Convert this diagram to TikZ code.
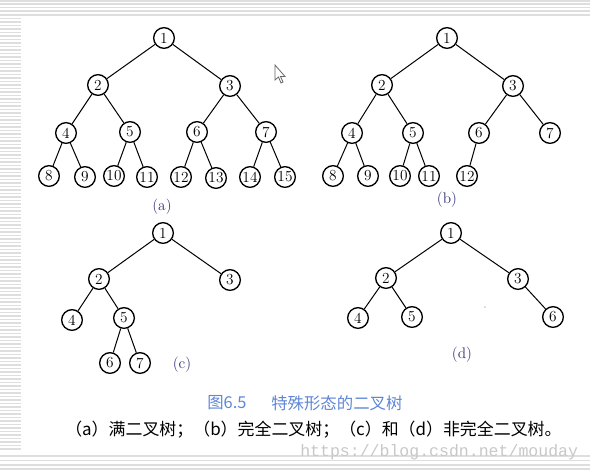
\documentclass[tikz,border=0pt]{standalone}
\usepackage{fontspec}
\newfontfamily\cjk{Noto Sans CJK SC}
\newfontfamily\wmfont{Liberation Mono}
\definecolor{labblue}{RGB}{50,50,120}
\definecolor{capblue}{RGB}{95,135,215}
\definecolor{stripegray}{RGB}{222,222,222}
\definecolor{wmgray}{RGB}{200,200,200}
\begin{document}
\begin{tikzpicture}[x=0.75pt,y=-0.75pt,
  tn/.style={circle,draw,line width=1pt,minimum size=15.5pt,inner sep=0pt,fill=white,font=\fontsize{11.5}{11.5}\selectfont},
  edge/.style={line width=0.75pt},
  sublabel/.style={text=labblue,font=\fontsize{11.5}{13}\selectfont},
  stripe/.style={draw=stripegray,line width=0.8pt}]
\path[use as bounding box,fill=white] (0,0) rectangle (590,471);
% background stripes
\foreach \y in {1,4,7.5,11,15} {\draw[stripe] (0,\y) -- (590,\y);}
\foreach \y in {456,460.5,465,469} {\draw[stripe] (0,\y) -- (590,\y);}
\foreach \i in {0,...,123} {\draw[stripe] (0,{18.5+3.5*\i}) -- (21,{18.5+3.5*\i});}
% cursor
\draw[fill=white,draw=black!60,line width=0.6pt] (275,65) -- (275,80) -- (278.5,77) -- (281,83) -- (283,82) -- (280.5,76.5) -- (285,76.5) -- cycle;
% tree (a)
\node[tn] (a1) at (164,38) {1};
\node[tn] (a2) at (98,85) {2};
\node[tn] (a3) at (230,86) {3};
\node[tn] (a4) at (66,133) {4};
\node[tn] (a5) at (130,132) {5};
\node[tn] (a6) at (197,132) {6};
\node[tn] (a7) at (266,132) {7};
\node[tn] (a8) at (49,176) {8};
\node[tn] (a9) at (85,177) {9};
\node[tn] (a10) at (114,176) {10};
\node[tn] (a11) at (147,177) {11};
\node[tn] (a12) at (181,177) {12};
\node[tn] (a13) at (216,178) {13};
\node[tn] (a14) at (250,177) {14};
\node[tn] (a15) at (285,177) {15};
\foreach \p/\c in {a1/a2,a1/a3,a2/a4,a2/a5,a3/a6,a3/a7,a4/a8,a4/a9,a5/a10,a5/a11,a6/a12,a6/a13,a7/a14,a7/a15}
  {\draw[edge] (\p) -- (\c);}
\node[sublabel] (la) at (162,207) {(a)};
% tree (b)
\node[tn] (b1) at (447,38) {1};
\node[tn] (b2) at (382,85) {2};
\node[tn] (b3) at (513,86) {3};
\node[tn] (b4) at (352,133) {4};
\node[tn] (b5) at (413,133) {5};
\node[tn] (b6) at (479,133) {6};
\node[tn] (b7) at (550,133) {7};
\node[tn] (b8) at (333,176) {8};
\node[tn] (b9) at (368,176) {9};
\node[tn] (b10) at (400,176) {10};
\node[tn] (b11) at (429,176) {11};
\node[tn] (b12) at (467,176) {12};
\foreach \p/\c in {b1/b2,b1/b3,b2/b4,b2/b5,b3/b6,b3/b7,b4/b8,b4/b9,b5/b10,b5/b11,b6/b12}
  {\draw[edge] (\p) -- (\c);}
\node[sublabel] (lb) at (447,200) {(b)};
% tree (c)
\node[tn] (c1) at (163,233) {1};
\node[tn] (c2) at (99,279) {2};
\node[tn] (c3) at (230,280) {3};
\node[tn] (c4) at (72,320) {4};
\node[tn] (c5) at (124,318) {5};
\node[tn] (c6) at (110,363) {6};
\node[tn] (c7) at (140,363) {7};
\foreach \p/\c in {c1/c2,c1/c3,c2/c4,c2/c5,c5/c6,c5/c7}
  {\draw[edge] (\p) -- (\c);}
\node[sublabel] (lc) at (182,365) {(c)};
% tree (d)
\node[tn] (d1) at (451,233) {1};
\node[tn] (d2) at (386,278) {2};
\node[tn] (d3) at (518,279) {3};
\node[tn] (d4) at (358,318) {4};
\node[tn] (d5) at (412,317) {5};
\node[tn] (d6) at (553,317) {6};
\foreach \p/\c in {d1/d2,d1/d3,d2/d4,d2/d5,d3/d6}
  {\draw[edge] (\p) -- (\c);}
\node[sublabel] (ld) at (462,355) {(d)};
\fill[black!55] (485,307) circle (0.6);
% captions
\node[anchor=west,inner sep=0pt,text=capblue,font=\cjk\fontsize{12.3}{14}\selectfont] (cap1) at (207,403) {图6.5};
\node[anchor=west,inner sep=0pt,text=capblue,font=\cjk\fontsize{12.3}{14}\selectfont] (cap2) at (271,403) {特殊形态的二叉树};
\node[anchor=west,inner sep=0pt,font=\cjk\fontsize{12.7}{14}\selectfont] (cap3) at (65,430) {（a）满二叉树；（b）完全二叉树；（c）和（d）非完全二叉树。};
\node[anchor=west,inner sep=0pt,text=wmgray,font=\wmfont\fontsize{12.4}{14}\selectfont] (wm) at (300,452) {https://blog.csdn.net/mouday};
\end{tikzpicture}
\end{document}
